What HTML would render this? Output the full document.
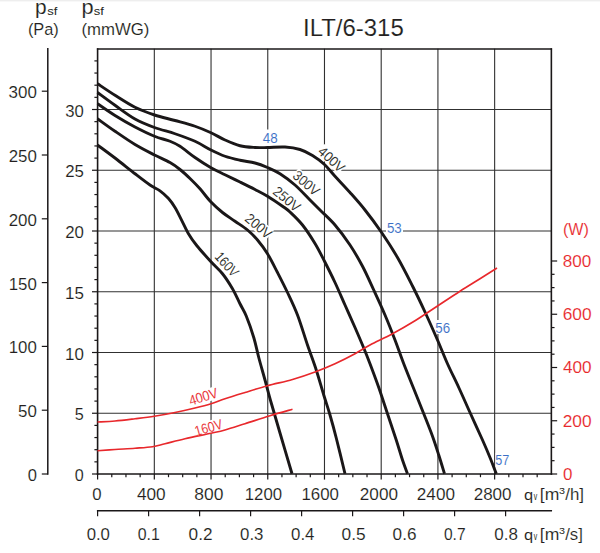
<!DOCTYPE html>
<html><head><meta charset="utf-8"><title>ILT/6-315</title>
<style>html,body{margin:0;padding:0;background:#fff;}body{width:600px;height:553px;overflow:hidden;font-family:"Liberation Sans",sans-serif;}</style></head>
<body>
<svg width="600" height="553" viewBox="0 0 600 553" style="display:block;font-family:'Liberation Sans',sans-serif">
<rect width="600" height="553" fill="#fff"/>
<rect width="600" height="1" fill="#eeeeee"/>
<rect y="1" width="600" height="1" fill="#f8f8f8"/>
<g stroke="#303030" stroke-width="1.1" fill="none">
<line x1="154.32" y1="48.75" x2="154.32" y2="474.00"/>
<line x1="211.04" y1="48.75" x2="211.04" y2="474.00"/>
<line x1="267.76" y1="48.75" x2="267.76" y2="474.00"/>
<line x1="324.48" y1="48.75" x2="324.48" y2="474.00"/>
<line x1="381.20" y1="48.75" x2="381.20" y2="474.00"/>
<line x1="437.92" y1="48.75" x2="437.92" y2="474.00"/>
<line x1="494.64" y1="48.75" x2="494.64" y2="474.00"/>
<line x1="97.60" y1="413.25" x2="551.36" y2="413.25"/>
<line x1="97.60" y1="352.50" x2="551.36" y2="352.50"/>
<line x1="97.60" y1="291.75" x2="551.36" y2="291.75"/>
<line x1="97.60" y1="231.00" x2="551.36" y2="231.00"/>
<line x1="97.60" y1="170.25" x2="551.36" y2="170.25"/>
<line x1="97.60" y1="109.50" x2="551.36" y2="109.50"/>
</g>
<g fill="#fff">
<rect x="261" y="129.5" width="18" height="16.5"/>
<rect x="386" y="222" width="17" height="13"/>
<rect x="434" y="320" width="17" height="14"/>
<rect x="495.5" y="453" width="15" height="14"/>
</g>
<rect x="316.30" y="141.60" width="30.50" height="12.80" fill="#fff" transform="rotate(42.50 317.30 153.00)"/>
<rect x="291.10" y="165.90" width="30.00" height="12.80" fill="#fff" transform="rotate(40.90 292.10 177.30)"/>
<rect x="271.50" y="182.10" width="30.30" height="12.80" fill="#fff" transform="rotate(39.70 272.50 193.50)"/>
<rect x="243.50" y="209.10" width="29.90" height="12.80" fill="#fff" transform="rotate(40.40 244.50 220.50)"/>
<rect x="213.50" y="246.60" width="27.30" height="12.80" fill="#fff" transform="rotate(48.00 214.50 258.00)"/>
<rect x="189.90" y="394.20" width="29.70" height="12.80" fill="#fff" transform="rotate(-17.00 190.90 405.60)"/>
<rect x="196.20" y="424.50" width="27.70" height="12.80" fill="#fff" transform="rotate(-16.00 197.20 435.90)"/>
<g stroke="#1a1718" fill="none" stroke-linecap="square">
<line x1="97.60" y1="49.00" x2="551.36" y2="49.00" stroke-width="1.4"/>
<line x1="97.60" y1="49.00" x2="97.60" y2="474.00" stroke-width="1.6"/>
<line x1="551.36" y1="49.00" x2="551.36" y2="474.00" stroke-width="1.6"/>
<line x1="97.60" y1="474.00" x2="551.36" y2="474.00" stroke-width="1.6"/>
</g>
<g stroke="#1a1718" stroke-width="1.2" fill="none">
<line x1="92.00" y1="474.00" x2="97.60" y2="474.00"/>
<line x1="94.40" y1="461.85" x2="97.60" y2="461.85"/>
<line x1="94.40" y1="449.70" x2="97.60" y2="449.70"/>
<line x1="94.40" y1="437.55" x2="97.60" y2="437.55"/>
<line x1="94.40" y1="425.40" x2="97.60" y2="425.40"/>
<line x1="92.00" y1="413.25" x2="97.60" y2="413.25"/>
<line x1="94.40" y1="401.10" x2="97.60" y2="401.10"/>
<line x1="94.40" y1="388.95" x2="97.60" y2="388.95"/>
<line x1="94.40" y1="376.80" x2="97.60" y2="376.80"/>
<line x1="94.40" y1="364.65" x2="97.60" y2="364.65"/>
<line x1="92.00" y1="352.50" x2="97.60" y2="352.50"/>
<line x1="94.40" y1="340.35" x2="97.60" y2="340.35"/>
<line x1="94.40" y1="328.20" x2="97.60" y2="328.20"/>
<line x1="94.40" y1="316.05" x2="97.60" y2="316.05"/>
<line x1="94.40" y1="303.90" x2="97.60" y2="303.90"/>
<line x1="92.00" y1="291.75" x2="97.60" y2="291.75"/>
<line x1="94.40" y1="279.60" x2="97.60" y2="279.60"/>
<line x1="94.40" y1="267.45" x2="97.60" y2="267.45"/>
<line x1="94.40" y1="255.30" x2="97.60" y2="255.30"/>
<line x1="94.40" y1="243.15" x2="97.60" y2="243.15"/>
<line x1="92.00" y1="231.00" x2="97.60" y2="231.00"/>
<line x1="94.40" y1="218.85" x2="97.60" y2="218.85"/>
<line x1="94.40" y1="206.70" x2="97.60" y2="206.70"/>
<line x1="94.40" y1="194.55" x2="97.60" y2="194.55"/>
<line x1="94.40" y1="182.40" x2="97.60" y2="182.40"/>
<line x1="92.00" y1="170.25" x2="97.60" y2="170.25"/>
<line x1="94.40" y1="158.10" x2="97.60" y2="158.10"/>
<line x1="94.40" y1="145.95" x2="97.60" y2="145.95"/>
<line x1="94.40" y1="133.80" x2="97.60" y2="133.80"/>
<line x1="94.40" y1="121.65" x2="97.60" y2="121.65"/>
<line x1="92.00" y1="109.50" x2="97.60" y2="109.50"/>
<line x1="94.40" y1="97.35" x2="97.60" y2="97.35"/>
<line x1="94.40" y1="85.20" x2="97.60" y2="85.20"/>
<line x1="94.40" y1="73.05" x2="97.60" y2="73.05"/>
<line x1="94.40" y1="60.90" x2="97.60" y2="60.90"/>
<line x1="97.60" y1="474.00" x2="97.60" y2="479.60"/>
<line x1="111.78" y1="474.00" x2="111.78" y2="477.20"/>
<line x1="125.96" y1="474.00" x2="125.96" y2="477.20"/>
<line x1="140.14" y1="474.00" x2="140.14" y2="477.20"/>
<line x1="154.32" y1="474.00" x2="154.32" y2="479.60"/>
<line x1="168.50" y1="474.00" x2="168.50" y2="477.20"/>
<line x1="182.68" y1="474.00" x2="182.68" y2="477.20"/>
<line x1="196.86" y1="474.00" x2="196.86" y2="477.20"/>
<line x1="211.04" y1="474.00" x2="211.04" y2="479.60"/>
<line x1="225.22" y1="474.00" x2="225.22" y2="477.20"/>
<line x1="239.40" y1="474.00" x2="239.40" y2="477.20"/>
<line x1="253.58" y1="474.00" x2="253.58" y2="477.20"/>
<line x1="267.76" y1="474.00" x2="267.76" y2="479.60"/>
<line x1="281.94" y1="474.00" x2="281.94" y2="477.20"/>
<line x1="296.12" y1="474.00" x2="296.12" y2="477.20"/>
<line x1="310.30" y1="474.00" x2="310.30" y2="477.20"/>
<line x1="324.48" y1="474.00" x2="324.48" y2="479.60"/>
<line x1="338.66" y1="474.00" x2="338.66" y2="477.20"/>
<line x1="352.84" y1="474.00" x2="352.84" y2="477.20"/>
<line x1="367.02" y1="474.00" x2="367.02" y2="477.20"/>
<line x1="381.20" y1="474.00" x2="381.20" y2="479.60"/>
<line x1="395.38" y1="474.00" x2="395.38" y2="477.20"/>
<line x1="409.56" y1="474.00" x2="409.56" y2="477.20"/>
<line x1="423.74" y1="474.00" x2="423.74" y2="477.20"/>
<line x1="437.92" y1="474.00" x2="437.92" y2="479.60"/>
<line x1="452.10" y1="474.00" x2="452.10" y2="477.20"/>
<line x1="466.28" y1="474.00" x2="466.28" y2="477.20"/>
<line x1="480.46" y1="474.00" x2="480.46" y2="477.20"/>
<line x1="494.64" y1="474.00" x2="494.64" y2="479.60"/>
<line x1="508.82" y1="474.00" x2="508.82" y2="477.20"/>
<line x1="523.00" y1="474.00" x2="523.00" y2="477.20"/>
<line x1="537.18" y1="474.00" x2="537.18" y2="477.20"/>
<line x1="551.36" y1="474.00" x2="557.16" y2="474.00"/>
<line x1="551.36" y1="460.69" x2="554.56" y2="460.69"/>
<line x1="551.36" y1="447.38" x2="554.56" y2="447.38"/>
<line x1="551.36" y1="434.06" x2="554.56" y2="434.06"/>
<line x1="551.36" y1="420.75" x2="557.16" y2="420.75"/>
<line x1="551.36" y1="407.44" x2="554.56" y2="407.44"/>
<line x1="551.36" y1="394.12" x2="554.56" y2="394.12"/>
<line x1="551.36" y1="380.81" x2="554.56" y2="380.81"/>
<line x1="551.36" y1="367.50" x2="557.16" y2="367.50"/>
<line x1="551.36" y1="354.19" x2="554.56" y2="354.19"/>
<line x1="551.36" y1="340.88" x2="554.56" y2="340.88"/>
<line x1="551.36" y1="327.56" x2="554.56" y2="327.56"/>
<line x1="551.36" y1="314.25" x2="557.16" y2="314.25"/>
<line x1="551.36" y1="300.94" x2="554.56" y2="300.94"/>
<line x1="551.36" y1="287.62" x2="554.56" y2="287.62"/>
<line x1="551.36" y1="274.31" x2="554.56" y2="274.31"/>
<line x1="551.36" y1="261.00" x2="557.16" y2="261.00"/>
<line x1="47.80" y1="48.05" x2="47.80" y2="474.70" stroke-width="1.5"/>
<line x1="41.80" y1="474.00" x2="47.80" y2="474.00"/>
<line x1="41.80" y1="410.20" x2="47.80" y2="410.20"/>
<line x1="41.80" y1="346.40" x2="47.80" y2="346.40"/>
<line x1="41.80" y1="282.60" x2="47.80" y2="282.60"/>
<line x1="41.80" y1="218.80" x2="47.80" y2="218.80"/>
<line x1="41.80" y1="155.00" x2="47.80" y2="155.00"/>
<line x1="41.80" y1="91.20" x2="47.80" y2="91.20"/>
<line x1="96.90" y1="510.80" x2="552.06" y2="510.80" stroke-width="1.5"/>
<line x1="97.60" y1="510.80" x2="97.60" y2="516.30"/>
<line x1="148.60" y1="510.80" x2="148.60" y2="516.30"/>
<line x1="199.60" y1="510.80" x2="199.60" y2="516.30"/>
<line x1="250.60" y1="510.80" x2="250.60" y2="516.30"/>
<line x1="301.60" y1="510.80" x2="301.60" y2="516.30"/>
<line x1="352.60" y1="510.80" x2="352.60" y2="516.30"/>
<line x1="403.60" y1="510.80" x2="403.60" y2="516.30"/>
<line x1="454.60" y1="510.80" x2="454.60" y2="516.30"/>
<line x1="505.60" y1="510.80" x2="505.60" y2="516.30"/>
</g>
<g fill="none" stroke="#1a1718" stroke-width="2.9" stroke-linecap="butt">
<path d="M97.50 83.75 C100.42 85.67 108.75 91.38 115.00 95.30 C121.25 99.22 128.42 104.02 135.00 107.30 C141.58 110.58 147.83 112.80 154.50 115.00 C161.17 117.20 168.25 118.62 175.00 120.50 C181.75 122.38 189.00 124.21 195.00 126.25 C201.00 128.29 206.00 130.46 211.00 132.75 C216.00 135.04 220.17 137.83 225.00 140.00 C229.83 142.17 235.00 144.50 240.00 145.75 C245.00 147.00 250.42 147.21 255.00 147.50 C259.58 147.79 262.50 147.58 267.50 147.50 C272.50 147.42 279.58 146.67 285.00 147.00 C290.42 147.33 295.42 148.08 300.00 149.50 C304.58 150.92 308.42 153.00 312.50 155.50 C316.58 158.00 320.75 161.04 324.50 164.50 C328.25 167.96 330.75 171.58 335.00 176.25 C339.25 180.92 345.00 186.88 350.00 192.50 C355.00 198.12 359.79 203.42 365.00 210.00 C370.21 216.58 375.83 224.08 381.25 232.00 C386.67 239.92 392.29 248.50 397.50 257.50 C402.71 266.50 407.92 276.92 412.50 286.00 C417.08 295.08 420.83 303.00 425.00 312.00 C429.17 321.00 433.75 331.38 437.50 340.00 C441.25 348.62 443.96 355.83 447.50 363.75 C451.04 371.67 455.00 379.38 458.75 387.50 C462.50 395.62 466.04 403.75 470.00 412.50 C473.96 421.25 479.17 432.50 482.50 440.00 C485.83 447.50 487.71 451.88 490.00 457.50 C492.29 463.12 495.21 471.04 496.25 473.75"/>
<path d="M97.50 92.50 C100.42 94.63 108.75 100.88 115.00 105.30 C121.25 109.72 128.42 115.30 135.00 119.00 C141.58 122.70 147.83 125.04 154.50 127.50 C161.17 129.96 168.25 131.46 175.00 133.75 C181.75 136.04 189.00 138.54 195.00 141.25 C201.00 143.96 206.00 147.50 211.00 150.00 C216.00 152.50 220.17 154.54 225.00 156.25 C229.83 157.96 235.00 159.12 240.00 160.25 C245.00 161.38 250.42 161.79 255.00 163.00 C259.58 164.21 263.33 165.71 267.50 167.50 C271.67 169.29 275.42 170.83 280.00 173.75 C284.58 176.67 290.00 180.62 295.00 185.00 C300.00 189.38 305.83 195.83 310.00 200.00 C314.17 204.17 315.83 205.83 320.00 210.00 C324.17 214.17 330.00 219.17 335.00 225.00 C340.00 230.83 345.42 238.12 350.00 245.00 C354.58 251.88 358.54 258.75 362.50 266.25 C366.46 273.75 370.00 281.88 373.75 290.00 C377.50 298.12 381.46 306.67 385.00 315.00 C388.54 323.33 391.88 331.88 395.00 340.00 C398.12 348.12 400.62 355.62 403.75 363.75 C406.88 371.88 410.42 380.42 413.75 388.75 C417.08 397.08 420.62 405.83 423.75 413.75 C426.88 421.67 430.00 429.38 432.50 436.25 C435.00 443.12 436.75 448.75 438.75 455.00 C440.75 461.25 443.54 470.62 444.50 473.75"/>
<path d="M97.50 103.75 C100.42 105.71 108.75 111.62 115.00 115.50 C121.25 119.38 128.42 123.54 135.00 127.00 C141.58 130.46 148.67 133.88 154.50 136.25 C160.33 138.62 165.75 139.58 170.00 141.25 C174.25 142.92 175.83 143.54 180.00 146.25 C184.17 148.96 189.83 153.92 195.00 157.50 C200.17 161.08 206.00 164.88 211.00 167.75 C216.00 170.62 220.17 172.38 225.00 174.75 C229.83 177.12 235.00 179.54 240.00 182.00 C245.00 184.46 250.42 187.12 255.00 189.50 C259.58 191.88 262.92 193.46 267.50 196.25 C272.08 199.04 278.75 203.62 282.50 206.25 C286.25 208.88 286.67 208.88 290.00 212.00 C293.33 215.12 298.33 219.75 302.50 225.00 C306.67 230.25 311.33 237.46 315.00 243.50 C318.67 249.54 321.17 254.75 324.50 261.25 C327.83 267.75 331.58 275.21 335.00 282.50 C338.42 289.79 341.67 297.50 345.00 305.00 C348.33 312.50 351.88 320.33 355.00 327.50 C358.12 334.67 361.25 341.96 363.75 348.00 C366.25 354.04 367.50 357.17 370.00 363.75 C372.50 370.33 375.83 379.17 378.75 387.50 C381.67 395.83 384.58 405.00 387.50 413.75 C390.42 422.50 393.75 432.29 396.25 440.00 C398.75 447.71 400.62 454.38 402.50 460.00 C404.38 465.62 406.67 471.46 407.50 473.75"/>
<path d="M97.50 118.75 C100.42 120.83 108.75 126.96 115.00 131.25 C121.25 135.54 128.42 140.54 135.00 144.50 C141.58 148.46 148.67 151.98 154.50 155.00 C160.33 158.02 165.75 160.18 170.00 162.60 C174.25 165.02 176.67 166.85 180.00 169.50 C183.33 172.15 186.67 175.28 190.00 178.50 C193.33 181.72 196.54 184.92 200.00 188.80 C203.46 192.68 207.00 197.85 210.75 201.80 C214.50 205.75 218.46 209.26 222.50 212.50 C226.54 215.74 230.83 218.33 235.00 221.25 C239.17 224.17 243.75 226.88 247.50 230.00 C251.25 233.12 254.17 236.04 257.50 240.00 C260.83 243.96 264.17 248.33 267.50 253.75 C270.83 259.17 274.17 266.04 277.50 272.50 C280.83 278.96 284.17 285.42 287.50 292.50 C290.83 299.58 294.17 306.25 297.50 315.00 C300.83 323.75 304.38 335.83 307.50 345.00 C310.62 354.17 313.54 361.67 316.25 370.00 C318.96 378.33 321.46 387.50 323.75 395.00 C326.04 402.50 327.92 407.83 330.00 415.00 C332.08 422.17 333.75 428.21 336.25 438.00 C338.75 447.79 343.54 467.79 345.00 473.75"/>
<path d="M97.50 145.00 C100.42 147.17 108.75 153.21 115.00 158.00 C121.25 162.79 129.17 169.25 135.00 173.75 C140.83 178.25 145.83 182.16 150.00 185.00 C154.17 187.84 156.95 188.58 160.00 190.80 C163.05 193.02 165.80 195.52 168.30 198.30 C170.80 201.08 172.77 203.83 175.00 207.50 C177.23 211.17 179.48 215.98 181.70 220.30 C183.92 224.62 185.80 229.20 188.30 233.40 C190.80 237.60 192.96 240.82 196.70 245.50 C200.44 250.18 206.45 256.79 210.75 261.50 C215.05 266.21 218.88 269.21 222.50 273.75 C226.12 278.29 229.58 283.75 232.50 288.75 C235.42 293.75 237.71 299.21 240.00 303.75 C242.29 308.29 243.96 310.38 246.25 316.00 C248.54 321.62 251.67 330.58 253.75 337.50 C255.83 344.42 256.88 350.42 258.75 357.50 C260.62 364.58 262.92 372.42 265.00 380.00 C267.08 387.58 268.75 394.17 271.25 403.00 C273.75 411.83 276.54 421.21 280.00 433.00 C283.46 444.79 290.00 466.96 292.00 473.75"/>
</g>
<g fill="none" stroke="#e8282c" stroke-width="1.65">
<path d="M97.50 422.00 C100.42 421.83 108.75 421.54 115.00 421.00 C121.25 420.46 128.46 419.54 135.00 418.75 C141.54 417.96 147.58 417.29 154.25 416.25 C160.92 415.21 168.21 413.88 175.00 412.50 C181.79 411.12 189.00 409.46 195.00 408.00 C201.00 406.54 206.00 405.29 211.00 403.75 C216.00 402.21 219.33 400.62 225.00 398.75 C230.67 396.88 237.92 394.67 245.00 392.50 C252.08 390.33 259.58 387.92 267.50 385.75 C275.42 383.58 284.58 381.79 292.50 379.50 C300.42 377.21 307.92 374.62 315.00 372.00 C322.08 369.38 328.33 366.79 335.00 363.75 C341.67 360.71 349.17 356.88 355.00 353.75 C360.83 350.62 363.75 348.33 370.00 345.00 C376.25 341.67 385.00 337.78 392.50 333.75 C400.00 329.72 407.50 325.43 415.00 320.80 C422.50 316.18 430.00 310.93 437.50 306.00 C445.00 301.07 452.92 295.79 460.00 291.25 C467.08 286.71 473.83 282.62 480.00 278.75 C486.17 274.88 494.17 269.79 497.00 268.00"/>
<path d="M97.50 450.75 C100.42 450.54 108.75 449.92 115.00 449.50 C121.25 449.08 128.75 448.71 135.00 448.25 C141.25 447.79 147.50 447.50 152.50 446.75 C157.50 446.00 159.58 445.08 165.00 443.75 C170.42 442.42 177.33 440.50 185.00 438.75 C192.67 437.00 204.33 434.71 211.00 433.25 C217.67 431.79 219.33 431.58 225.00 430.00 C230.67 428.42 237.50 426.12 245.00 423.75 C252.50 421.38 262.08 418.17 270.00 415.75 C277.92 413.33 288.75 410.33 292.50 409.25"/>
</g>
<text transform="translate(302.98 35.70) scale(1.0242 1.0000)" font-size="23.40" fill="#231f20" stroke="#fff" stroke-width="0.12">ILT/6-315</text>
<text transform="translate(34.94 13.50) scale(1.0712 1.0000)" font-size="19.50" fill="#231f20" stroke="#fff" stroke-width="0.12">p</text>
<text transform="translate(47.14 15.20) scale(1.1525 1.0000)" font-size="11.30" fill="#231f20" stroke="#fff" stroke-width="0.00">sf</text>
<text transform="translate(27.88 34.70) scale(0.9760 1.0000)" font-size="16.80" fill="#231f20" stroke="#fff" stroke-width="0.12">(Pa)</text>
<text transform="translate(81.58 13.50) scale(1.1168 1.0000)" font-size="19.50" fill="#231f20" stroke="#fff" stroke-width="0.12">p</text>
<text transform="translate(93.84 15.20) scale(1.1525 1.0000)" font-size="11.30" fill="#231f20" stroke="#fff" stroke-width="0.00">sf</text>
<text transform="translate(81.45 34.70) scale(0.9972 1.0000)" font-size="16.80" fill="#231f20" stroke="#fff" stroke-width="0.12">(mmWG)</text>
<text transform="translate(27.64 480.90) scale(0.9508 1.0000)" font-size="17.40" fill="#231f20" stroke="#fff" stroke-width="0.12">0</text>
<text transform="translate(18.07 417.10) scale(0.9713 1.0000)" font-size="17.40" fill="#231f20" stroke="#fff" stroke-width="0.12">50</text>
<text transform="translate(8.74 353.30) scale(0.9683 1.0000)" font-size="17.40" fill="#231f20" stroke="#fff" stroke-width="0.12">100</text>
<text transform="translate(8.74 289.50) scale(0.9683 1.0000)" font-size="17.40" fill="#231f20" stroke="#fff" stroke-width="0.12">150</text>
<text transform="translate(8.66 225.70) scale(0.9712 1.0000)" font-size="17.40" fill="#231f20" stroke="#fff" stroke-width="0.12">200</text>
<text transform="translate(8.66 161.90) scale(0.9712 1.0000)" font-size="17.40" fill="#231f20" stroke="#fff" stroke-width="0.12">250</text>
<text transform="translate(8.56 98.10) scale(0.9744 1.0000)" font-size="17.40" fill="#231f20" stroke="#fff" stroke-width="0.12">300</text>
<text transform="translate(74.85 481.00) scale(0.9268 1.0000)" font-size="17.40" fill="#231f20" stroke="#fff" stroke-width="0.12">0</text>
<text transform="translate(74.85 420.25) scale(0.9316 1.0000)" font-size="17.40" fill="#231f20" stroke="#fff" stroke-width="0.12">5</text>
<text transform="translate(65.03 359.50) scale(0.9737 1.0000)" font-size="17.40" fill="#231f20" stroke="#fff" stroke-width="0.12">10</text>
<text transform="translate(65.03 298.75) scale(0.9761 1.0000)" font-size="17.40" fill="#231f20" stroke="#fff" stroke-width="0.12">15</text>
<text transform="translate(65.16 238.00) scale(0.9668 1.0000)" font-size="17.40" fill="#231f20" stroke="#fff" stroke-width="0.12">20</text>
<text transform="translate(65.16 177.25) scale(0.9691 1.0000)" font-size="17.40" fill="#231f20" stroke="#fff" stroke-width="0.12">25</text>
<text transform="translate(65.27 116.50) scale(0.9606 1.0000)" font-size="17.40" fill="#231f20" stroke="#fff" stroke-width="0.12">30</text>
<text transform="translate(92.23 500.00) scale(0.9629 1.0000)" font-size="17.40" fill="#231f20" stroke="#fff" stroke-width="0.12">0</text>
<text transform="translate(136.91 500.00) scale(0.9903 1.0000)" font-size="17.40" fill="#231f20" stroke="#fff" stroke-width="0.12">400</text>
<text transform="translate(194.26 500.00) scale(1.0028 1.0000)" font-size="17.40" fill="#231f20" stroke="#fff" stroke-width="0.12">800</text>
<text transform="translate(244.74 500.00) scale(0.9642 1.0000)" font-size="17.40" fill="#231f20" stroke="#fff" stroke-width="0.12">1200</text>
<text transform="translate(301.43 500.00) scale(0.9697 1.0000)" font-size="17.40" fill="#231f20" stroke="#fff" stroke-width="0.12">1600</text>
<text transform="translate(359.84 500.00) scale(0.9852 1.0000)" font-size="17.40" fill="#231f20" stroke="#fff" stroke-width="0.12">2000</text>
<text transform="translate(416.84 500.00) scale(0.9852 1.0000)" font-size="17.40" fill="#231f20" stroke="#fff" stroke-width="0.12">2400</text>
<text transform="translate(473.65 500.00) scale(0.9798 1.0000)" font-size="17.40" fill="#231f20" stroke="#fff" stroke-width="0.12">2800</text>
<text transform="translate(86.63 539.90) scale(0.9633 1.0000)" font-size="17.40" fill="#231f20" stroke="#fff" stroke-width="0.12">0.0</text>
<text transform="translate(137.66 539.90) scale(0.9134 1.0000)" font-size="17.40" fill="#231f20" stroke="#fff" stroke-width="0.12">0.1</text>
<text transform="translate(188.61 539.90) scale(0.9903 1.0000)" font-size="17.40" fill="#231f20" stroke="#fff" stroke-width="0.12">0.2</text>
<text transform="translate(240.03 539.90) scale(0.9670 1.0000)" font-size="17.40" fill="#231f20" stroke="#fff" stroke-width="0.12">0.3</text>
<text transform="translate(291.03 539.90) scale(0.9691 1.0000)" font-size="17.40" fill="#231f20" stroke="#fff" stroke-width="0.12">0.4</text>
<text transform="translate(341.61 539.90) scale(0.9959 1.0000)" font-size="17.40" fill="#231f20" stroke="#fff" stroke-width="0.12">0.5</text>
<text transform="translate(392.61 539.90) scale(0.9846 1.0000)" font-size="17.40" fill="#231f20" stroke="#fff" stroke-width="0.12">0.6</text>
<text transform="translate(443.98 539.90) scale(0.8930 1.0000)" font-size="17.40" fill="#231f20" stroke="#fff" stroke-width="0.12">0.7</text>
<text transform="translate(494.32 539.90) scale(0.9758 1.0000)" font-size="17.40" fill="#231f20" stroke="#fff" stroke-width="0.12">0.8</text>
<text transform="translate(524.00 499.60) scale(1.0609 1.0000)" font-size="15.50" fill="#231f20" stroke="#fff" stroke-width="0.08">q</text>
<text transform="translate(533.87 499.60) scale(0.6939 1.0000)" font-size="10.00" fill="#231f20" stroke="#fff" stroke-width="0.00">v</text>
<text transform="translate(539.83 499.60) scale(1.0657 1.0000)" font-size="16.50" fill="#231f20" stroke="#fff" stroke-width="0.12">[m</text>
<text transform="translate(558.90 494.30) scale(1.1799 1.0000)" font-size="9.10" fill="#231f20" stroke="#fff" stroke-width="0.00">3</text>
<text transform="translate(565.20 499.60) scale(1.0232 1.0000)" font-size="16.50" fill="#231f20" stroke="#fff" stroke-width="0.12">/h]</text>
<text transform="translate(524.00 539.50) scale(1.0609 1.0000)" font-size="15.50" fill="#231f20" stroke="#fff" stroke-width="0.08">q</text>
<text transform="translate(533.87 539.50) scale(0.6939 1.0000)" font-size="10.00" fill="#231f20" stroke="#fff" stroke-width="0.00">v</text>
<text transform="translate(539.83 539.50) scale(1.0657 1.0000)" font-size="16.50" fill="#231f20" stroke="#fff" stroke-width="0.12">[m</text>
<text transform="translate(558.90 534.20) scale(1.1799 1.0000)" font-size="9.10" fill="#231f20" stroke="#fff" stroke-width="0.00">3</text>
<text transform="translate(565.20 539.50) scale(1.0152 1.0000)" font-size="16.50" fill="#231f20" stroke="#fff" stroke-width="0.12">/s]</text>
<text transform="translate(562.89 235.10) scale(0.9396 1.0000)" font-size="17.20" fill="#e8282c" stroke="#fff" stroke-width="0.12">(W)</text>
<text transform="translate(563.02 479.90) scale(0.9749 1.0000)" font-size="17.40" fill="#e8282c" stroke="#fff" stroke-width="0.12">0</text>
<text transform="translate(562.73 426.65) scale(0.9967 1.0000)" font-size="17.40" fill="#e8282c" stroke="#fff" stroke-width="0.12">200</text>
<text transform="translate(563.01 373.40) scale(0.9868 1.0000)" font-size="17.40" fill="#e8282c" stroke="#fff" stroke-width="0.12">400</text>
<text transform="translate(562.73 320.15) scale(0.9967 1.0000)" font-size="17.40" fill="#e8282c" stroke="#fff" stroke-width="0.12">600</text>
<text transform="translate(562.67 266.90) scale(0.9811 1.0000)" font-size="17.40" fill="#e8282c" stroke="#fff" stroke-width="0.12">800</text>
<text transform="translate(262.70 143.00) scale(0.9239 1.0000)" font-size="14.50" fill="#3b6fc6" stroke="#fff" stroke-width="0.08">48</text>
<text transform="translate(386.97 233.00) scale(0.9195 1.0000)" font-size="14.50" fill="#3b6fc6" stroke="#fff" stroke-width="0.08">53</text>
<text transform="translate(435.27 332.60) scale(0.9195 1.0000)" font-size="14.50" fill="#3b6fc6" stroke="#fff" stroke-width="0.08">56</text>
<text transform="translate(495.29 465.00) scale(0.8722 1.0000)" font-size="14.50" fill="#3b6fc6" stroke="#fff" stroke-width="0.08">57</text>
<text transform="translate(317.08 152.80) rotate(42.50) scale(0.9156 1.0000)" font-size="14.20" fill="#231f20" stroke="#fff" stroke-width="0.08">400V</text>
<text transform="translate(291.74 176.98) rotate(40.90) scale(0.9062 1.0000)" font-size="14.20" fill="#231f20" stroke="#fff" stroke-width="0.08">300V</text>
<text transform="translate(272.00 193.08) rotate(39.70) scale(0.9204 1.0000)" font-size="14.20" fill="#231f20" stroke="#fff" stroke-width="0.08">250V</text>
<text transform="translate(244.01 220.08) rotate(40.40) scale(0.9081 1.0000)" font-size="14.20" fill="#231f20" stroke="#fff" stroke-width="0.08">200V</text>
<text transform="translate(213.90 257.34) rotate(48.00) scale(0.8370 1.0000)" font-size="14.20" fill="#231f20" stroke="#fff" stroke-width="0.08">160V</text>
<text transform="translate(190.63 405.68) rotate(-17.00) scale(0.8912 1.0000)" font-size="14.20" fill="#e8282c" stroke="#fff" stroke-width="0.08">400V</text>
<text transform="translate(196.33 436.15) rotate(-16.00) scale(0.8494 1.0000)" font-size="14.20" fill="#e8282c" stroke="#fff" stroke-width="0.08">160V</text>
</svg>
</body></html>
